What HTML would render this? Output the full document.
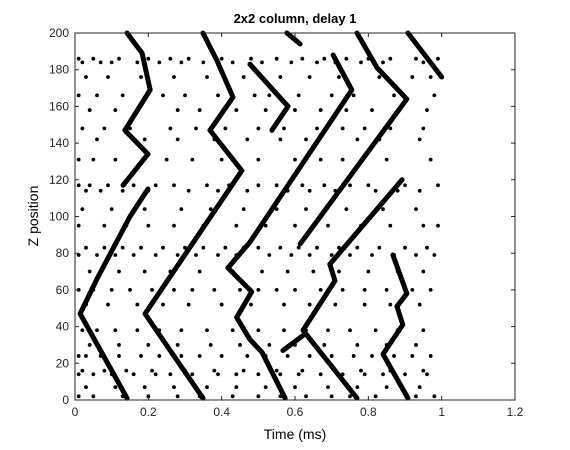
<!DOCTYPE html>
<html><head><meta charset="utf-8"><style>
body{margin:0;background:#fff}
svg{display:block;font-family:"Liberation Sans",sans-serif}
</style></head><body>
<svg id="chart" width="570" height="450">
<rect width="570" height="450" fill="#fff"/>
<g id="plot"></g>
<text x="295" y="23" text-anchor="middle" font-size="13" font-weight="bold">2x2 column, delay 1</text>
<text x="295" y="439" text-anchor="middle" font-size="14">Time (ms)</text>
<text transform="translate(38,216) rotate(-90)" text-anchor="middle" font-size="14">Z position</text>
</svg>
<script>
const xTicks=[0,0.2,0.4,0.6,0.8,1,1.2];
const xTickLabels=["0","0.2","0.4","0.6","0.8","1","1.2"];
const yTicks=[0,20,40,60,80,100,120,140,160,180,200];
const yTickLabels=["0","20","40","60","80","100","120","140","160","180","200"];
// traces: arrays of [time, z] vertices
const trace1=[[0.142,200],[0.183,189],[0.205,169],[0.136,147],[0.199,134],[0.131,117]];
const trace2=[[0.199,115],[0.150,100],[0.060,66],[0.014,47],[0.142,1]];
const trace3=[[0.349,200],[0.387,185],[0.431,165],[0.368,147],[0.455,125],[0.191,47],[0.232,35],[0.349,1]];
const trace4=[[0.704,188],[0.755,169],[0.477,86],[0.417,72],[0.482,59],[0.441,45],[0.477,33],[0.510,26],[0.573,1]];
const trace5=[[0.769,200],[0.824,181],[0.905,164],[0.614,85]];
const trace6=[[0.892,120],[0.695,74],[0.709,65],[0.622,38],[0.769,1]];
const trace7=[[0.867,79],[0.905,58],[0.878,51],[0.894,41],[0.840,25],[0.908,1]];
const trace8=[[0.908,200],[1.0,176]];
const trace9=[[0.477,183],[0.581,160],[0.537,147]];
const trace10=[[0.578,200],[0.614,194]];
const trace11=[[0.567,27],[0.621,35]];
const traces=[trace1,trace2,trace3,trace4,trace5,trace6,trace7,trace8,trace9,trace10,trace11];
// background spikes: rows of z with times
const dotRowZ=[186,184,176,166,158,148,142,131,117,114,104,95,83,79,70,60,52,38,30,24,16,14,7,2];
const dotRowT=[
[0.01,0.05,0.12,0.2,0.26,0.31,0.4,0.48,0.55,0.62,0.68,0.74,0.8,0.86,0.93,0.99],
[0.02,0.07,0.1,0.17,0.23,0.29,0.35,0.43,0.51,0.59,0.66,0.71,0.78,0.84,0.95],
[0.03,0.09,0.18,0.27,0.36,0.46,0.56,0.64,0.72,0.83,0.92,0.97],
[0.01,0.06,0.13,0.24,0.3,0.39,0.49,0.53,0.61,0.7,0.76,0.87,0.98],
[0.04,0.11,0.17,0.28,0.34,0.44,0.52,0.6,0.67,0.74,0.81,0.96],
[0.02,0.08,0.15,0.26,0.33,0.41,0.5,0.57,0.66,0.73,0.79,0.86,0.95],
[0.06,0.19,0.28,0.38,0.47,0.56,0.63,0.77,0.83,0.94],
[0.01,0.05,0.11,0.25,0.32,0.4,0.5,0.6,0.67,0.73,0.85,0.97],
[0.01,0.04,0.09,0.16,0.22,0.27,0.36,0.42,0.5,0.55,0.62,0.68,0.75,0.8,0.9,0.99],
[0.03,0.07,0.13,0.2,0.31,0.39,0.47,0.58,0.64,0.71,0.82,0.88,0.94],
[0.02,0.1,0.19,0.29,0.37,0.46,0.55,0.63,0.74,0.84,0.93],
[0.01,0.08,0.14,0.2,0.27,0.35,0.44,0.52,0.6,0.69,0.78,0.86,0.95,0.99],
[0.03,0.08,0.13,0.18,0.24,0.3,0.35,0.41,0.46,0.5,0.56,0.61,0.66,0.72,0.77,0.83,0.9,0.96],
[0.01,0.06,0.11,0.16,0.22,0.28,0.33,0.39,0.44,0.53,0.59,0.64,0.7,0.75,0.81,0.87,0.93,0.98],
[0.04,0.12,0.19,0.26,0.34,0.43,0.51,0.58,0.65,0.72,0.8,0.88,0.95],
[0.01,0.05,0.1,0.15,0.21,0.27,0.32,0.38,0.45,0.5,0.55,0.6,0.67,0.73,0.79,0.85,0.92,0.97],
[0.03,0.09,0.17,0.24,0.31,0.4,0.48,0.57,0.64,0.71,0.79,0.86,0.94],
[0.02,0.06,0.11,0.17,0.23,0.29,0.36,0.43,0.5,0.57,0.63,0.69,0.75,0.82,0.88,0.95],
[0.04,0.12,0.2,0.28,0.37,0.45,0.53,0.6,0.68,0.77,0.85,0.93],
[0.01,0.03,0.07,0.12,0.18,0.23,0.29,0.34,0.4,0.47,0.52,0.58,0.64,0.7,0.76,0.81,0.87,0.92,0.97],
[0.02,0.08,0.14,0.21,0.3,0.38,0.46,0.55,0.62,0.71,0.78,0.86,0.95],
[0.01,0.05,0.1,0.16,0.22,0.26,0.32,0.39,0.44,0.5,0.56,0.61,0.67,0.73,0.79,0.84,0.9,0.96],
[0.03,0.11,0.19,0.27,0.36,0.44,0.52,0.6,0.69,0.77,0.85,0.94],
[0.01,0.05,0.13,0.2,0.28,0.34,0.43,0.5,0.56,0.63,0.7,0.75,0.82,0.93,0.98]];

const NS="http://www.w3.org/2000/svg";
const L=75,R=515,T=33,B=400;
function xs(t){return L+(t-0)/(1.2-0)*(R-L);}
function ys(z){return B-(z-0)/(200-0)*(B-T);}
const g=document.getElementById('plot');
function mk(tag,attrs){const e=document.createElementNS(NS,tag);for(const k in attrs)e.setAttribute(k,attrs[k]);g.appendChild(e);return e;}

dotRowZ.forEach((z,i)=>{
  dotRowT[i].forEach(t=>{
    const c=mk('circle',{cx:xs(t),cy:ys(z),r:1.9,fill:'#000'});
    
    
  });
});
traces.forEach((tr,i)=>{
  const p=mk('polyline',{points:tr.map(v=>xs(v[0])+','+ys(v[1])).join(' '),fill:'none',stroke:'#000','stroke-width':5,'stroke-linejoin':'round','stroke-linecap':'round'});
  
  
});
const box=mk('rect',{x:L,y:T,width:R-L,height:B-T,fill:'none',stroke:'#262626','stroke-width':1});


xTicks.forEach((t,i)=>{
  const x=xs(t);
  const tk=mk('path',{d:`M${x},${B}V${B-4}M${x},${T}V${T+4}`,stroke:'#262626'});
  
  
  const lb=mk('text',{x:x,y:B+16,'text-anchor':'middle','font-size':12,fill:'#262626'});
  lb.textContent=xTickLabels[i];
  
  
});
yTicks.forEach((z,i)=>{
  const y=ys(z);
  const tk=mk('path',{d:`M${L},${y}H${L+4}M${R},${y}H${R-4}`,stroke:'#262626'});
  
  
  const lb=mk('text',{x:L-6,y:y+4,'text-anchor':'end','font-size':12,fill:'#262626'});
  lb.textContent=yTickLabels[i];
  
  
});
</script>
</body></html>
